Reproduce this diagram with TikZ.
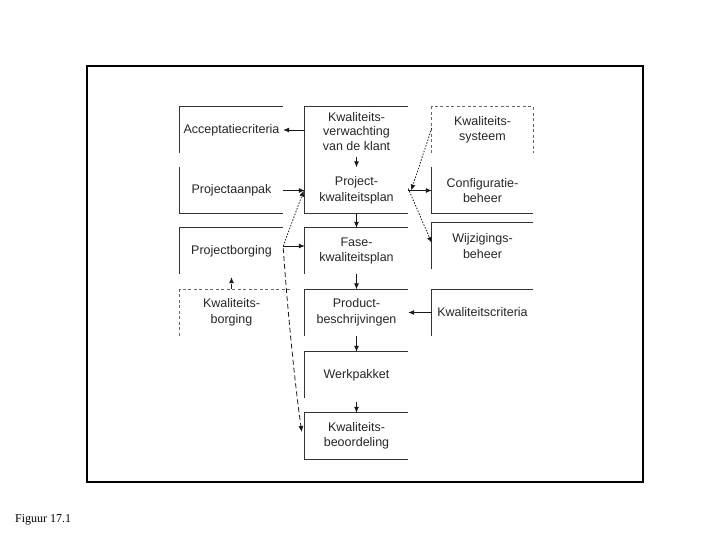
\documentclass[tikz,border=0pt]{standalone}
\usepackage{fontspec}
\newfontfamily\boxfont{Liberation Sans}
\newfontfamily\capfont{Liberation Serif}
\usetikzlibrary{arrows.meta}
\tikzset{
  box/.style={inner sep=0pt, minimum width=103pt, minimum height=46pt, align=center,
    text=black!85, font={\boxfont\fontsize{12.5}{15.5}\selectfont}},
  edge/.style={draw=black!80, line width=0.9pt},
  dedge/.style={draw=black!60, line width=0.9pt, dash pattern=on 3pt off 2.5pt},
  arr/.style={draw=black!90, line width=0.8pt, -{Latex[length=6pt,width=5pt]}},
  dotarr/.style={arr, dash pattern=on 1.5pt off 1.5pt},
  dasharr/.style={arr, dash pattern=on 5pt off 3pt},
  frame/.style={draw=black, line width=1.4pt}
}
\begin{document}
\begin{tikzpicture}[x=1pt,y=-1pt]
\useasboundingbox (0,0) rectangle (720,540);
\draw[frame] (87,66) rectangle (643,482);

% left column
\node[box] (A) at (231.5,130) {Acceptatiecriteria};
\node[box] (B) at (231.5,190.5) {Projectaanpak};
\node[box] (C) at (231.5,251) {Projectborging};
\node[box] (D) at (231.5,312.5) {Kwaliteits-\\borging};
% middle column
\node[box, font={\boxfont\fontsize{12.5}{14.5}\selectfont}] (E) at (356.5,131.5) {Kwaliteits-\\verwachting\\van de klant};
\node[box] (F) at (356.5,190.5) {Project-\\kwaliteitsplan};
\node[box] (G) at (356.5,251) {Fase-\\kwaliteitsplan};
\node[box] (H) at (356.5,312.5) {Product-\\beschrijvingen};
\node[box] (I) at (356.5,375) {Werkpakket};
\node[box] (J) at (356.5,436) {Kwaliteits-\\beoordeling};
% right column
\node[box, minimum width=101pt] (K) at (482.5,130) {Kwaliteits-\\systeem};
\node[box, minimum width=101pt] (L) at (482.5,190.5) {Configuratie-\\beheer};
\node[box, minimum width=101pt] (M) at (482.5,246) {Wijzigings-\\beheer};
\node[box, minimum width=101pt] (N) at (482.5,312.5) {Kwaliteitscriteria};

% visible box edges
\draw[edge] (A.north east) -- (A.north west) -- (A.south west);
\draw[edge] (B.north west) -- (B.south west) -- (B.south east);
\draw[edge] (C.north east) -- (C.north west) -- (C.south west);
\draw[dedge] ([xshift=7pt]D.north east) -- (D.north west) -- (D.south west);
\draw[edge] ([yshift=1.5pt]E.north east) -- ([yshift=1.5pt]E.north west) -- (F.south west) -- (F.south east);
\draw[edge] (G.north east) -- (G.north west) -- (G.south west);
\draw[edge] (H.north east) -- (H.north west) -- (H.south west);
\draw[edge] (I.north east) -- (I.north west) -- (I.south west);
\draw[edge] (J.north east) -- (J.north west) -- (J.south west) -- (J.south east);
\draw[dedge] (K.south west) -- (K.north west) -- (K.north east) -- (K.south east);
\draw[edge] (L.north west) -- (L.south west) -- (L.south east);
\draw[edge] (M.north east) -- (M.north west) -- (M.south west);
\draw[edge] (N.north east) -- (N.north west) -- (N.south west);

% solid connectors
\draw[arr] ([yshift=1.5pt]E.west) -- (A.east);
\draw[arr] ([yshift=-2pt]E.south) -- (F.north);
\draw[arr] (B.east) -- (F.west);
\draw[arr] (F.south) -- (G.north);
\draw[arr] (F.east) -- (L.west);
\draw[arr] (G.south) -- (H.north);
\draw[arr] (H.south) -- (I.north);
\draw[arr] ([yshift=-4pt]I.south) -- (J.north);
\draw[arr] ([yshift=5pt]C.east) -- ([yshift=5pt]G.west);
\draw[arr] (N.west) -- (H.east);

% dashed / dotted connectors
\draw[dasharr] (D.north) -- ([yshift=-3pt]C.south);
\draw[dotarr] ([yshift=5pt]C.east) -- ([xshift=-1pt]F.west);
\draw[dasharr] ([yshift=3pt]C.east) .. controls (289,330) and (297,400) .. ([xshift=-3pt,yshift=4pt]J.west);
\draw[dotarr] ([yshift=2pt]K.west) -- ([xshift=3pt]F.east);
\draw[dotarr] ([yshift=2pt]F.east) -- ([yshift=3pt]M.west);

\node[anchor=base west, inner sep=0pt, font={\capfont\fontsize{12}{14}\selectfont}] (cap) at (15,522) {Figuur 17.1};
\end{tikzpicture}
\end{document}
